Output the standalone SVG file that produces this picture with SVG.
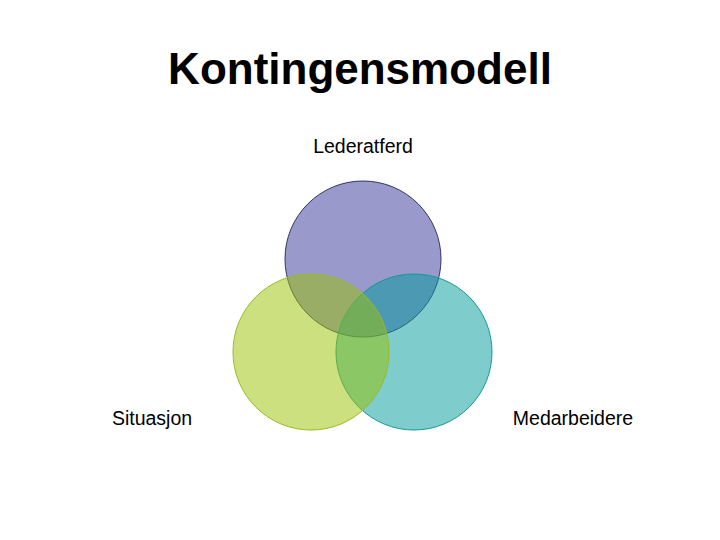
<svg xmlns="http://www.w3.org/2000/svg" width="720" height="540" viewBox="0 0 720 540">
<style>
text{font-family:"Liberation Sans",Arial,sans-serif;fill:#000}
.t{font-size:44px;font-weight:bold}
.l{font-size:19.5px}
</style>
<rect width="720" height="540" fill="#fff"/>
<text class="t" x="360" y="84" text-anchor="middle">Kontingensmodell</text>
<g id="lederatferd"><circle cx="363" cy="259" r="78" fill="#9999cc" stroke="#333366" stroke-width="1"/><text class="l" x="363" y="153" text-anchor="middle">Lederatferd</text></g>
<g id="medarbeidere"><circle cx="414" cy="352" r="78" fill="#009999" fill-opacity="0.5" stroke="#119999" stroke-width="1"/><text class="l" x="573" y="425" text-anchor="middle">Medarbeidere</text></g>
<g id="situasjon"><circle cx="311" cy="352" r="78" fill="#99c100" fill-opacity="0.5" stroke="#99bb22" stroke-width="1"/><text class="l" x="152" y="425" text-anchor="middle">Situasjon</text></g>
<g id="connectors"/>
</svg>
